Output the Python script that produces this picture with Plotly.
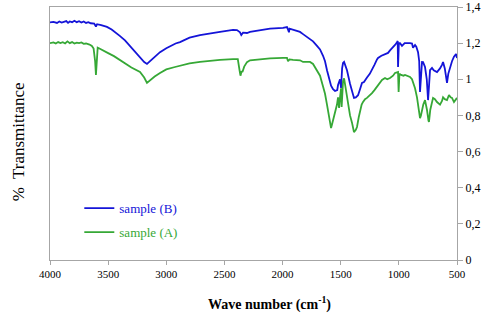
import plotly.graph_objects as go

# Sample (B) - blue spectrum
wn_b = [4000, 3970, 3940, 3920, 3900, 3880, 3860, 3845, 3830, 3810, 3790, 3770, 3750, 3730, 3710,
        3690, 3670, 3650, 3620, 3605, 3595, 3560, 3510, 3470, 3440, 3400, 3355, 3300, 3269, 3220,
        3190, 3166, 3140, 3100, 3054, 3000, 2968, 2920, 2882, 2800, 2710, 2624, 2538, 2426, 2392,
        2366, 2355, 2340, 2306, 2280, 2194, 2108, 1996, 1962, 1953, 1945, 1940, 1910, 1850, 1824,
        1800, 1764, 1738, 1704, 1678, 1652, 1635, 1618, 1600, 1583, 1566, 1549, 1530, 1523, 1506,
        1497, 1488, 1480, 1471, 1460, 1446, 1420, 1400, 1386, 1370, 1351, 1334, 1317, 1300, 1291,
        1274, 1250, 1231, 1210, 1188, 1179, 1150, 1136, 1120, 1093, 1076, 1050, 1033, 1016, 1010,
        1007, 1000, 990, 981, 973, 950, 930, 904, 887, 878, 861, 850, 835, 825, 818, 810, 801,
        792, 775, 760, 749, 741, 732, 715, 700, 672, 646, 629, 620, 605, 586, 575, 560, 543, 526,
        517, 508, 500]
t_b = [1.315, 1.318, 1.312, 1.320, 1.314, 1.319, 1.322, 1.312, 1.320, 1.316, 1.324, 1.316, 1.321, 1.314, 1.320,
       1.312, 1.316, 1.310, 1.308, 1.292, 1.305, 1.300, 1.290, 1.275, 1.262, 1.240, 1.215, 1.175, 1.150, 1.115,
       1.095, 1.085, 1.100, 1.125, 1.150, 1.172, 1.184, 1.198, 1.206, 1.230, 1.245, 1.255, 1.262, 1.273, 1.272,
       1.260, 1.245, 1.258, 1.256, 1.262, 1.270, 1.280, 1.284, 1.289, 1.275, 1.260, 1.280, 1.273, 1.262, 1.250,
       1.240, 1.225, 1.210, 1.185, 1.165, 1.130, 1.100, 1.050, 1.000, 0.965, 0.945, 0.935, 0.940, 0.968, 1.000,
       0.952, 1.060, 1.090, 1.096, 1.080, 1.050, 0.975, 0.920, 0.897, 0.900, 0.912, 0.945, 0.980, 0.985, 0.996,
       1.010, 1.030, 1.050, 1.080, 1.110, 1.118, 1.130, 1.134, 1.140, 1.146, 1.160, 1.175, 1.190, 1.205, 1.212,
       1.068, 1.200, 1.200, 1.190, 1.185, 1.200, 1.201, 1.200, 1.198, 1.175, 1.190, 1.180, 1.150, 1.100, 0.930, 1.050, 1.096,
       1.095, 1.068, 1.000, 0.885, 0.960, 1.051, 1.063, 1.050, 1.040, 1.060, 1.080, 1.096, 1.060, 0.980, 1.030, 1.068, 1.100, 1.125,
       1.134, 1.140, 1.118]

# Sample (A) - green spectrum
wn_a = [4000, 3970, 3950, 3930, 3910, 3890, 3870, 3850, 3830, 3810, 3790, 3770, 3750, 3730, 3710,
        3690, 3660, 3640, 3625, 3612, 3605, 3598, 3590, 3575, 3540, 3500, 3450, 3400, 3350, 3300,
        3226, 3190, 3166, 3140, 3100, 3054, 3000, 2925, 2850, 2800, 2710, 2624, 2538, 2426, 2385,
        2370, 2362, 2352, 2345, 2330, 2306, 2280, 2194, 2108, 1996, 1962, 1953, 1940, 1910, 1850,
        1824, 1764, 1738, 1704, 1678, 1652, 1635, 1618, 1600, 1583, 1575, 1566, 1549, 1540, 1532,
        1523, 1514, 1506, 1497, 1492, 1486, 1480, 1471, 1460, 1446, 1437, 1420, 1403, 1386, 1370,
        1360, 1345, 1334, 1320, 1308, 1291, 1274, 1250, 1231, 1210, 1188, 1160, 1145, 1119, 1100,
        1076, 1050, 1033, 1016, 1007, 1002, 995, 981, 960, 947, 930, 904, 887, 878, 861, 844, 830,
        818, 810, 801, 790, 775, 765, 758, 745, 741, 730, 715, 706, 690, 672, 646, 629, 620, 605,
        586, 569, 555, 543, 526, 517, 500]
t_a = [1.200, 1.204, 1.198, 1.206, 1.200, 1.205, 1.198, 1.210, 1.200, 1.206, 1.198, 1.203, 1.200, 1.204, 1.196,
       1.198, 1.192, 1.184, 1.170, 1.100, 1.024, 1.100, 1.175, 1.170, 1.160, 1.145, 1.128, 1.107, 1.085, 1.065,
       1.040, 1.010, 0.980, 0.995, 1.015, 1.035, 1.055, 1.068, 1.080, 1.088, 1.096, 1.103, 1.107, 1.112, 1.112,
       1.050, 1.020, 1.045, 1.040, 1.070, 1.095, 1.105, 1.110, 1.116, 1.118, 1.118, 1.100, 1.110, 1.107, 1.105,
       1.096, 1.096, 1.085, 1.050, 1.020, 0.960, 0.920, 0.860, 0.800, 0.730, 0.750, 0.775, 0.815, 0.830, 0.860,
       0.900, 0.841, 0.900, 0.950, 0.847, 0.950, 0.990, 1.005, 0.960, 0.900, 0.870, 0.800, 0.760, 0.708, 0.720,
       0.736, 0.790, 0.830, 0.860, 0.875, 0.890, 0.897, 0.910, 0.924, 0.940, 0.957, 0.980, 0.996, 1.007, 1.000,
       1.007, 1.020, 1.035, 1.040, 1.040, 0.930, 1.030, 1.024, 1.020, 1.024, 1.018, 1.013, 1.000, 0.985, 0.950, 0.900, 0.840,
       0.785, 0.800, 0.830, 0.860, 0.885, 0.860, 0.830, 0.770, 0.764, 0.830, 0.870, 0.897, 0.890, 0.874, 0.860, 0.880, 0.900, 0.890,
       0.885, 0.913, 0.900, 0.897, 0.874, 0.885, 0.897]

x_ticks = [4000, 3500, 3000, 2500, 2000, 1500, 1000, 500]
name_b = "sample (B)"
name_a = "sample (A)"
blue = "#1414d8"
green = "#36a836"
serif = "Times New Roman, Liberation Serif, serif"

fig = go.Figure()
fig.add_trace(go.Scatter(x=wn_b, y=t_b, mode="lines", name=f"<span style='color:{blue}'>{name_b}</span>",
                         line=dict(color=blue, width=1.8), legend="legend"))
fig.add_trace(go.Scatter(x=wn_a, y=t_a, mode="lines", name=f"<span style='color:{green}'>{name_a}</span>",
                         line=dict(color=green, width=1.8), legend="legend2"))

axis_line = "#a6a6a6"
fig.update_layout(
    width=500, height=325,
    margin=dict(l=50, r=43, t=7, b=65, autoexpand=False),
    paper_bgcolor="white", plot_bgcolor="white",
    separators=", ",
    font=dict(family=serif, size=11, color="black"),
    xaxis=dict(range=[4000, 500], tickvals=x_ticks, ticks="outside", ticklen=4, tickcolor=axis_line,
               showline=True, linecolor=axis_line, linewidth=1, mirror=True, showgrid=False, zeroline=False,
               automargin=False, tickfont=dict(family=serif, size=11, color="black")),
    yaxis=dict(range=[0, 1.4], dtick=0.2, side="right", ticks="outside", ticklen=5, tickcolor=axis_line,
               showline=True, linecolor=axis_line, linewidth=1, mirror=True, showgrid=False, zeroline=False,
               automargin=False, tickfont=dict(family=serif, size=12, color="black")),
    legend=dict(x=0.072, y=0.205, xanchor="left", yanchor="middle", bgcolor="rgba(0,0,0,0)",
                font=dict(family=serif, size=13)),
    legend2=dict(x=0.072, y=0.11, xanchor="left", yanchor="middle", bgcolor="rgba(0,0,0,0)",
                 font=dict(family=serif, size=13)),
    showlegend=True,
    annotations=[
        dict(text="<b>Wave number (cm<sup>-1</sup>)</b>", x=0.54, y=-0.17, xref="paper", yref="paper",
             xanchor="center", yanchor="middle", showarrow=False, font=dict(family=serif, size=14)),
        dict(text="%  Transmittance", x=-0.078, y=0.466, xref="paper", yref="paper", textangle=-90,
             xanchor="center", yanchor="middle", showarrow=False, font=dict(family=serif, size=17)),
    ],
)

fig.write_html("out.html", config={"displayModeBar": False},
               post_script="document.body.style.margin='0';")
